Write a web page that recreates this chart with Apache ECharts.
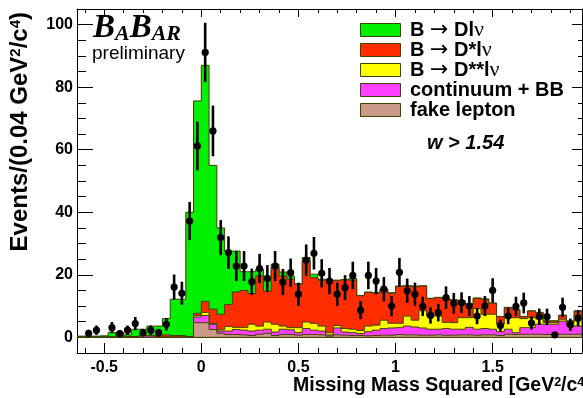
<!DOCTYPE html>
<html>
<head>
<meta charset="utf-8">
<script src="https://cdn.jsdelivr.net/npm/echarts@6/dist/echarts.min.js"></script>
<style>
  html, body { margin: 0; padding: 0; background: #fff; }
  #chart { width: 583px; height: 398px; }
</style>
</head>
<body>
<div id="chart"></div>
<script>
// Histogram binning: 65 bins of 0.04 GeV^2/c^4 starting at -0.64
const binWidth = 0.04;
const xStart = -0.64;

// Per-bin yields of each stacked component (bottom of the stack first)
const fakeLepton = [
  0,0,0,0,0,0,0,0,0,0,0,0,0,0,0,
  4.7,4.7,2.5,1.3,0.9,0.9,0.8,0.6,1.0,1.3,
  0.6,0.9,0.9,0.7,0.9,0.9,0.8,0.4,0.8,0.7,
  0.6,0.6,0.5,0.6,0.7,0.7,0.9,0.8,0.8,0.7,
  0.7,0.8,0.7,0.7,0.8,0.8,0.7,0.8,0.8,0.6,
  1.0,0.9,1.0,1.0,1.0,0.9,0.9,1.0,1.0,1.0
];
const continuumBB = [
  0,0,0,0,0,0,0,0,0.5,0.5,0,0,0,0,0,
  1.8,2.3,1.7,0.7,1.1,1.6,1.5,1.4,1.3,1.3,
  1.1,1.7,1.5,0.8,1.9,1.4,1.2,0.4,2.2,1.0,
  0.9,0.6,1.3,1.7,2.1,2.3,2.2,2.8,2.5,2.3,
  1.9,1.8,2.1,1.9,1.8,2.4,1.9,2.0,1.8,1.2,
  1.6,0.6,2.1,2.1,3.2,3.3,3.3,4.2,2.8,2.6
];
const dssLnu = [
  0,0,0,0,0,0,0,0,0,0,0,0,0,0,0,
  0.5,1.0,0.2,0.4,1.5,0.7,0.9,2.2,1.3,2.3,
  2.5,1.0,0.7,1.6,2.1,2.2,1.6,0.7,0.8,1.1,
  1.1,1.0,1.8,1.6,2.7,1.5,1.4,3.2,2.2,5.5,
  4.2,4.2,2.0,2.1,3.7,3.1,6.6,4.6,4.8,2.4,
  3.7,4.8,2.9,3.2,1.8,0.5,0.5,0.6,0.9,3.4
];
const dsLnu = [
  0.1,0.1,0.1,0.1,0.1,1.4,0.3,0.3,0.1,0.1,0.5,0.8,0.6,0.6,0.3,
  0.7,3.5,4.6,5.0,7.0,11.3,11.8,9.8,16.0,9.9,
  18.1,16.0,15.5,13.9,19.5,14.6,14.7,16.7,14.4,15.6,
  15.7,11.1,10.8,10.3,9.8,9.5,11.8,9.6,10.7,7.9,
  5.6,5.9,7.4,7.2,5.3,4.3,3.3,4.8,3.5,2.4,
  3.2,2.5,0.6,2.1,1.9,0.5,0.5,1.2,0.5,1.4
];
const dLnu = [
  0.3,0.3,0.3,0.4,1.5,0.2,0.5,2.3,2.0,3.0,3.1,5.2,11.6,11.6,39.7,
  67.9,75.5,46.0,27.6,17.1,13.1,6.0,7.0,2.2,4.8,
  1.1,1.3,1.0,0.1,1.1,1.1,0.3,0.1,0.1,0.1,
  0.5,0.1,0.1,0.1,0.1,0.3,0.1,0.2,0.2,0.1,
  0.1,0.1,0.1,0.1,0.1,0.1,0.1,0.1,0.1,0.1,
  0.1,0.1,0.1,0.1,0.1,0.1,0.1,0.1,0.1,0.1
];

// Data: events per bin and their statistical errors (null = empty bin)
const dataCounts = [
  null,1.3,2.3,null,3.1,1.2,2.3,4.4,1.5,2.3,1.5,4.2,16.1,14.1,37.2,
  61.2,91.1,66.0,31.9,27.1,22.8,22.8,17.8,22.0,18.8,
  22.8,17.7,20.7,13.8,24.7,26.9,20.5,18.0,13.8,15.9,
  19.8,8.7,19.8,18.0,15.4,10.0,20.8,14.9,13.8,9.9,
  7.0,7.9,12.7,10.9,11.1,10.0,6.8,10.0,15.0,3.8,
  6.8,9.9,11.0,4.6,6.6,6.6,0.8,9.6,4.0,6.1
];
const dataErrors = [
  null,1.1,1.5,null,1.8,1.1,1.5,2.1,1.2,1.5,1.2,2.0,4.0,3.7,6.1,
  7.8,9.5,8.1,5.6,5.2,4.8,4.8,4.2,4.7,4.3,
  4.8,4.2,4.5,3.7,5.0,5.2,4.5,4.2,3.7,4.0,
  4.4,2.9,4.4,4.2,3.9,3.2,4.6,3.9,3.7,3.1,
  2.6,2.8,3.6,3.3,3.3,3.2,2.6,3.2,3.9,1.9,
  2.6,3.1,3.3,2.1,2.6,2.6,0.9,3.1,2.0,2.5
];

// Tick labels
const xTickLabels = [-0.5, 0, 0.5, 1, 1.5];
const yTickLabels = [0, 20, 40, 60, 80, 100];

// Component names (legend order) and fill colours
const componentNames = ['B → Dlν', 'B → D*lν', 'B → D**lν', 'continuum + BB', 'fake lepton'];
const componentColors = ['#00f000', '#ff2d00', '#ffff00', '#ff40ff', '#cc9988'];
const outline = '#3f4200';

// Stack from the bottom: fake, continuum, D**, D*, D
const stackBottomUp = [fakeLepton, continuumBB, dssLnu, dsLnu, dLnu];
const cumulative = [];
stackBottomUp.forEach((arr, j) => {
  cumulative.push(arr.map((v, k) => v + (j > 0 ? cumulative[j - 1][k] : 0)));
});
// cumulative[4] = total (D on top), ... cumulative[0] = fake only
const topsByLegend = [cumulative[4], cumulative[3], cumulative[2], cumulative[1], cumulative[0]];

const SANS = 'Liberation Sans, Arial, Helvetica, sans-serif';
const SERIF = 'Liberation Serif, Times New Roman, serif';

function histogramSeries(idx) {
  const tops = topsByLegend[idx];
  const color = componentColors[idx];
  return {
    type: 'custom',
    name: componentNames[idx],
    xAxisIndex: 0,
    yAxisIndex: 0,
    clip: true,
    silent: true,
    encode: { x: 0, y: 1 },
    data: [[xStart, 0]],
    renderItem: function (params, api) {
      const pts = [api.coord([xStart, 0])];
      tops.forEach(function (v, k) {
        const lo = xStart + k * binWidth;
        pts.push(api.coord([lo, v]));
        pts.push(api.coord([lo + binWidth, v]));
      });
      pts.push(api.coord([xStart + tops.length * binWidth, 0]));
      return {
        type: 'polygon',
        shape: { points: pts },
        style: { fill: color, stroke: outline, lineWidth: 1 }
      };
    }
  };
}

const pointData = [];
dataCounts.forEach(function (v, k) {
  if (v !== null) pointData.push([xStart + (k + 0.5) * binWidth, v, dataErrors[k]]);
});

// Legend entries: coloured box + label with arrow and Greek nu
const legendRich = {
  b: { fontFamily: SANS, fontWeight: 'bold', fontSize: 20, fill: '#000', verticalAlign: 'middle' },
  a: { fontFamily: 'DejaVu Sans', fontSize: 22, fill: '#000', verticalAlign: 'middle' },
  g: { fontFamily: SERIF, fontSize: 22, fill: '#000', verticalAlign: 'middle' }
};
const legendText = {
  'B → Dlν': '{b|B }{a|→}{b| Dl}{g|ν}',
  'B → D*lν': '{b|B }{a|→}{b| D*l}{g|ν}',
  'B → D**lν': '{b|B }{a|→}{b| D**l}{g|ν}',
  'continuum + BB': '{b|continuum + BB}',
  'fake lepton': '{b|fake lepton}'
};
const legendGraphics = [];
componentNames.forEach(function (n, i) {
  legendGraphics.push({
    type: 'rect', z: 10,
    shape: { x: 360.5, y: 23.5 + 20 * i, width: 40, height: 13 },
    style: { fill: componentColors[i], stroke: outline, lineWidth: 1 }
  });
  legendGraphics.push({
    type: 'text', z: 10, x: 410, y: 30.5 + 20 * i,
    style: { text: legendText[n], rich: legendRich, align: 'left', verticalAlign: 'middle' }
  });
});

const axisBase = {
  type: 'value',
  splitLine: { show: false },
  axisLine: { show: true, onZero: false, lineStyle: { color: '#000', width: 1 } }
};

const option = {
  animation: false,
  backgroundColor: '#fff',
  grid: { left: 77, top: 9, right: 1, bottom: 45, containLabel: false },
  xAxis: [
    Object.assign({}, axisBase, {
      position: 'bottom', min: xStart, max: 1.96, splitNumber: 5,
      axisTick: { show: true, inside: true, length: 10, lineStyle: { color: '#000' } },
      minorTick: { show: true, splitNumber: 5, length: 5, lineStyle: { color: '#000' } },
      axisLabel: {
        margin: 7, color: '#000', fontFamily: SANS, fontWeight: 'bold', fontSize: 16,
        showMinLabel: false, showMaxLabel: false,
        formatter: function (v) { return xTickLabels.indexOf(Math.round(v * 100) / 100) >= 0 ? String(Math.round(v * 100) / 100) : ''; }
      }
    }),
    Object.assign({}, axisBase, {
      position: 'top', min: xStart, max: 1.96, splitNumber: 5,
      axisTick: { show: true, inside: true, length: 8, lineStyle: { color: '#000' } },
      minorTick: { show: true, splitNumber: 5, length: 4, lineStyle: { color: '#000' } },
      axisLabel: { show: false }
    })
  ],
  yAxis: [
    Object.assign({}, axisBase, {
      position: 'left', min: -5, max: 105, splitNumber: 5,
      axisTick: { show: true, inside: true, length: 16, lineStyle: { color: '#000' } },
      minorTick: { show: true, splitNumber: 4, length: 9, lineStyle: { color: '#000' } },
      axisLabel: {
        margin: 4, color: '#000', fontFamily: SANS, fontWeight: 'bold', fontSize: 16,
        showMinLabel: false, showMaxLabel: false,
        formatter: function (v) { return yTickLabels.indexOf(Math.round(v)) >= 0 && Math.abs(v - Math.round(v)) < 1e-6 ? String(Math.round(v)) : ''; }
      }
    }),
    Object.assign({}, axisBase, {
      position: 'right', min: -5, max: 105, splitNumber: 5,
      axisTick: { show: true, inside: true, length: 10, lineStyle: { color: '#000' } },
      minorTick: { show: true, splitNumber: 4, length: 4, lineStyle: { color: '#000' } },
      axisLabel: { show: false }
    })
  ],
  series: [0, 1, 2, 3, 4].map(histogramSeries).concat([{
    type: 'custom',
    name: 'data',
    xAxisIndex: 0,
    yAxisIndex: 0,
    clip: true,
    silent: true,
    z: 5,
    encode: { x: 0, y: 1 },
    data: pointData,
    renderItem: function (params, api) {
      const x = api.value(0), y = api.value(1), e = api.value(2);
      const p = api.coord([x, y]);
      const lo = api.coord([x, y - e]);
      const hi = api.coord([x, y + e]);
      return {
        type: 'group',
        children: [
          { type: 'line', shape: { x1: p[0], y1: lo[1], x2: p[0], y2: hi[1] }, style: { stroke: '#000', lineWidth: 2.6 } },
          { type: 'circle', shape: { cx: p[0], cy: p[1], r: 3.6 }, style: { fill: '#000' } }
        ]
      };
    }
  }]),
  graphic: legendGraphics.concat([
    {
      type: 'text', left: 93, top: 12, z: 10,
      style: {
        text: '{big|B}{sm|A}{big|B}{sm|AR}',
        rich: {
          big: { fontFamily: SERIF, fontStyle: 'italic', fontWeight: 'bold', fontSize: 33, fill: '#000', verticalAlign: 'bottom' },
          sm: { fontFamily: SERIF, fontStyle: 'italic', fontWeight: 'bold', fontSize: 22, fill: '#000', verticalAlign: 'bottom' }
        }
      }
    },
    {
      type: 'text', left: 92, top: 44, z: 10,
      style: { text: 'preliminary', fontFamily: SANS, fontSize: 19, fill: '#000' }
    },
    {
      type: 'text', left: 427, top: 133, z: 10,
      style: { text: 'w > 1.54', fontFamily: SANS, fontStyle: 'italic', fontWeight: 'bold', fontSize: 20, fill: '#000' }
    },
    {
      type: 'text', x: 8, y: 12, rotation: Math.PI / 2, z: 10,
      style: {
        text: '{t|Events/(0.04 GeV}{s|2}{t|/c}{s|4}{t|)}',
        align: 'right', verticalAlign: 'top',
        rich: {
          t: { fontFamily: SANS, fontWeight: 'bold', fontSize: 24, fill: '#000' },
          s: { fontFamily: SANS, fontWeight: 'bold', fontSize: 15, fill: '#000', verticalAlign: 'top' }
        }
      }
    },
    {
      type: 'text', x: 293, y: 376, z: 10,
      style: {
        text: '{t|Missing Mass Squared [GeV}{s|2}{t|/c}{s|4}{t|]}',
        align: 'left', verticalAlign: 'top',
        rich: {
          t: { fontFamily: SANS, fontWeight: 'bold', fontSize: 19.5, fill: '#000' },
          s: { fontFamily: SANS, fontWeight: 'bold', fontSize: 12.5, fill: '#000', verticalAlign: 'top' }
        }
      }
    }
  ])
};

const chart = echarts.init(document.getElementById('chart'), null, { renderer: 'canvas' });
chart.setOption(option);
</script>
</body>
</html>
